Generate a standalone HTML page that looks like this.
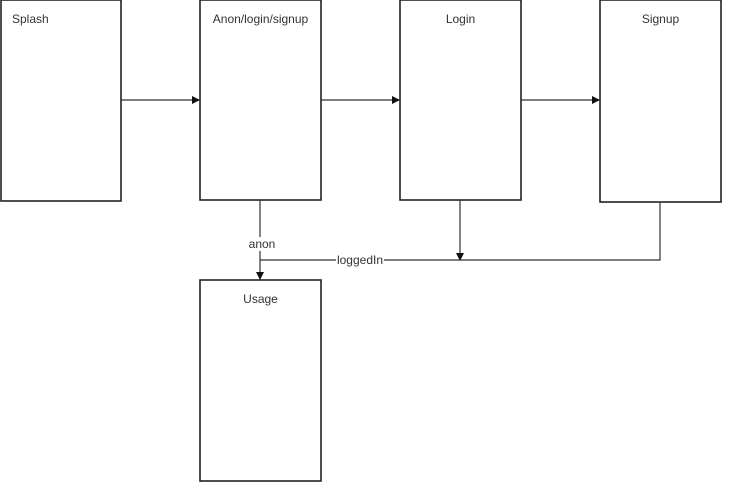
<!DOCTYPE html><html><head><style>body{margin:0;background:#fff}</style></head><body>
<svg width="732" height="492" xmlns="http://www.w3.org/2000/svg" font-family="Liberation Sans, sans-serif" font-size="12">
<defs><marker id="a" markerWidth="8" markerHeight="8" refX="7" refY="4" orient="auto" markerUnits="userSpaceOnUse"><path d="M0,0L8,4L0,8Z" fill="#111"/></marker></defs>
<g fill="#fff" stroke="#222" stroke-width="1.6">
<rect x="1" y="0" width="120" height="201"/>
<rect x="200" y="0" width="121" height="200"/>
<rect x="400" y="0" width="121" height="200"/>
<rect x="600" y="0" width="121" height="202"/>
<rect x="200" y="280" width="121" height="201"/>
</g>
<g stroke="#333" stroke-width="1.2" fill="none">
<path d="M121,100H199" marker-end="url(#a)"/>
<path d="M321,100H399" marker-end="url(#a)"/>
<path d="M521,100H599" marker-end="url(#a)"/>
<path d="M260,200V279" marker-end="url(#a)"/>
<path d="M460,200V260" marker-end="url(#a)"/>
<path d="M660,202V260H260"/>
</g>
<g fill="#333">
<text x="12" y="23">Splash</text>
<text x="260.5" y="23" text-anchor="middle">Anon/login/signup</text>
<text x="460.5" y="23" text-anchor="middle">Login</text>
<text x="660.5" y="23" text-anchor="middle">Signup</text>
<text x="260.5" y="303" text-anchor="middle">Usage</text>
<rect x="248" y="237" width="28" height="14" fill="#fff"/>
<text x="262" y="248" text-anchor="middle">anon</text>
<rect x="336" y="253" width="48" height="14" fill="#fff"/>
<text x="360" y="264" text-anchor="middle">loggedIn</text>
</g>
</svg></body></html>
